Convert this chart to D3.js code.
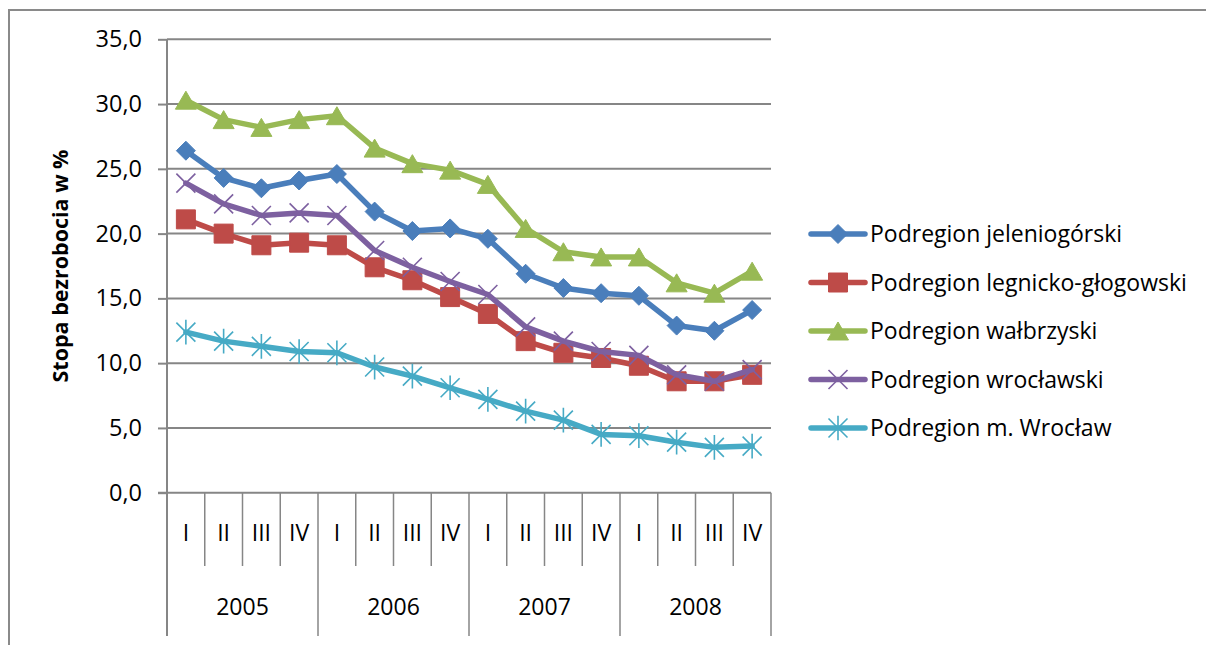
<!DOCTYPE html>
<html><head><meta charset="utf-8">
<script src="https://cdn.jsdelivr.net/npm/d3@7"></script>
<style>html,body{margin:0;padding:0;background:#fff;}svg{display:block;}</style>
</head><body>
<script>
const years = ["2005","2006","2007","2008"];
const quarters = ["I","II","III","IV"];
const categories = years.flatMap(y => quarters.map(q => y + "-" + q));
const yTicks = [0,5,10,15,20,25,30,35];
const seriesNames = ["Podregion jeleniogórski","Podregion legnicko-głogowski","Podregion wałbrzyski","Podregion wrocławski","Podregion m. Wrocław"];
const jeleniogorski = [26.4,24.3,23.5,24.1,24.6,21.7,20.2,20.4,19.6,16.9,15.8,15.4,15.2,12.9,12.5,14.1];
const legnickoGlogowski = [21.1,20.0,19.1,19.3,19.1,17.4,16.4,15.1,13.8,11.7,10.8,10.4,9.8,8.6,8.6,9.1];
const walbrzyski = [30.3,28.8,28.2,28.8,29.1,26.6,25.4,24.9,23.8,20.4,18.6,18.2,18.2,16.2,15.4,17.1];
const wroclawski = [23.9,22.3,21.4,21.6,21.4,18.7,17.4,16.3,15.3,12.8,11.7,10.9,10.6,9.1,8.6,9.5];
const mWroclaw = [12.4,11.7,11.3,10.9,10.8,9.7,9.0,8.1,7.2,6.3,5.6,4.5,4.4,3.9,3.5,3.6];
const yTitle = "Stopa bezrobocia w %";

const seriesValues = [jeleniogorski, legnickoGlogowski, walbrzyski, wroclawski, mWroclaw];
const colors = ["#4A7EBB","#BE4B48","#98B954","#7D60A0","#46AAC5"];
const markerKinds = ["diamond","square","triangle","x","star"];

(function () {
const W = 1206, H = 645;
const FONT = "'Open Sans', 'Liberation Sans', sans-serif";
const GRID = "#868686";
const svg = d3.select("body").append("svg").attr("width", W).attr("height", H);

// outer chart border
svg.append("rect").attr("x", 9).attr("y", 10).attr("width", 1205).attr("height", 660)
  .attr("fill", "#fff").attr("stroke", "#8a8a8a").attr("stroke-width", 2);

const pLeft = 167, pRight = 771, pTop = 39.3, pBottom = 492.7;
const x = d3.scaleBand().domain(categories).range([pLeft, pRight]).padding(0);
const y = d3.scaleLinear().domain([0, 35]).range([pBottom, pTop]);
const locale = d3.formatLocale({decimal: ",", thousands: " ", grouping: [3], currency: ["", ""]});
const fmt = locale.format(".1f");

// gridlines
svg.append("g").selectAll("line").data(yTicks.filter(d => d > 0)).join("line")
  .attr("x1", pLeft).attr("x2", pRight).attr("y1", d => y(d)).attr("y2", d => y(d))
  .attr("stroke", GRID).attr("stroke-width", 2);

// y axis
const yAxis = svg.append("g").attr("transform", `translate(${pLeft},0)`)
  .call(d3.axisLeft(y).tickValues(yTicks).tickFormat(fmt).tickSize(9).tickPadding(16));
yAxis.select(".domain").remove();
yAxis.selectAll(".tick line").attr("stroke", GRID).attr("stroke-width", 2);
yAxis.selectAll(".tick text").attr("font-family", FONT).attr("font-size", 23.5).attr("fill", "#000");

// axis lines
svg.append("line").attr("x1", pLeft).attr("x2", pLeft).attr("y1", pTop).attr("y2", 636)
  .attr("stroke", GRID).attr("stroke-width", 2);
svg.append("line").attr("x1", pLeft - 9).attr("x2", pRight).attr("y1", pBottom).attr("y2", pBottom)
  .attr("stroke", GRID).attr("stroke-width", 2);

// category separators
const bw = x.bandwidth();
const bounds = d3.range(categories.length + 1);
svg.append("g").selectAll("line").data(bounds).join("line")
  .attr("x1", i => pLeft + i * bw).attr("x2", i => pLeft + i * bw)
  .attr("y1", pBottom).attr("y2", i => (i % 4 === 0) ? 636 : 566)
  .attr("stroke", GRID).attr("stroke-width", 1.5);

// quarter labels
svg.append("g").selectAll("text").data(categories).join("text")
  .attr("x", d => x(d) + bw / 2).attr("y", 533).attr("dy", "0.35em")
  .attr("text-anchor", "middle").attr("font-family", FONT).attr("font-size", 23)
  .text(d => d.split("-")[1]);
// year labels
svg.append("g").selectAll("text").data(years).join("text")
  .attr("x", yr => x(yr + "-I") + 2 * bw).attr("y", 607).attr("dy", "0.35em")
  .attr("text-anchor", "middle").attr("font-family", FONT).attr("font-size", 23)
  .text(yr => yr);

// y title
svg.append("text").attr("transform", `translate(60,${(pTop + pBottom) / 2}) rotate(-90)`)
  .attr("dy", "0.35em").attr("text-anchor", "middle").attr("font-family", FONT)
  .attr("font-weight", "bold").attr("font-size", 21.5).text(yTitle);

// markers
function markerPath(kind) {
  const p = d3.path();
  if (kind === "diamond") { const r = 9.5; p.moveTo(0,-r); p.lineTo(r,0); p.lineTo(0,r); p.lineTo(-r,0); p.closePath(); }
  else if (kind === "square") { const r = 9.5; p.rect(-r,-r,2*r,2*r); }
  else if (kind === "triangle") { const w = 10.5, h = 9; p.moveTo(0,-h); p.lineTo(w,h); p.lineTo(-w,h); p.closePath(); }
  else if (kind === "x") { const r = 9.5; p.moveTo(-r,-r); p.lineTo(r,r); p.moveTo(r,-r); p.lineTo(-r,r); }
  else if (kind === "star") { const r = 9.5; p.moveTo(-r,-r); p.lineTo(r,r); p.moveTo(r,-r); p.lineTo(-r,r); p.moveTo(0,-r*1.3); p.lineTo(0,r*1.3); }
  return p.toString();
}
function drawMarker(g, kind, color) {
  const filled = kind === "diamond" || kind === "square" || kind === "triangle";
  g.append("path").attr("d", markerPath(kind))
    .attr("fill", filled ? color : "none")
    .attr("stroke", color).attr("stroke-width", filled ? 1 : 1.6);
}

const line = d3.line().x((d, i) => x(categories[i]) + bw / 2).y(d => y(d));
seriesValues.forEach((vals, s) => {
  const g = svg.append("g");
  g.append("path").datum(vals).attr("d", line).attr("fill", "none")
    .attr("stroke", colors[s]).attr("stroke-width", 5.5).attr("stroke-linejoin", "round").attr("stroke-linecap", "round");
  vals.forEach((v, i) => {
    const mg = g.append("g").attr("transform", `translate(${x(categories[i]) + bw / 2},${y(v)})`);
    drawMarker(mg, markerKinds[s], colors[s]);
  });
});

// legend
const legY = [234, 282.5, 331, 379.5, 428];
seriesNames.forEach((name, s) => {
  const g = svg.append("g").attr("transform", `translate(0,${legY[s]})`);
  g.append("line").attr("x1", 811).attr("x2", 865).attr("y1", 0).attr("y2", 0)
    .attr("stroke", colors[s]).attr("stroke-width", 5.5).attr("stroke-linecap", "round");
  const mg = g.append("g").attr("transform", "translate(838,0)");
  drawMarker(mg, markerKinds[s], colors[s]);
  g.append("text").attr("x", 870).attr("y", 0).attr("dy", "0.35em")
    .attr("font-family", FONT).attr("font-size", 23).attr("fill", "#000").text(name);
});
})();
</script>
</body></html>
